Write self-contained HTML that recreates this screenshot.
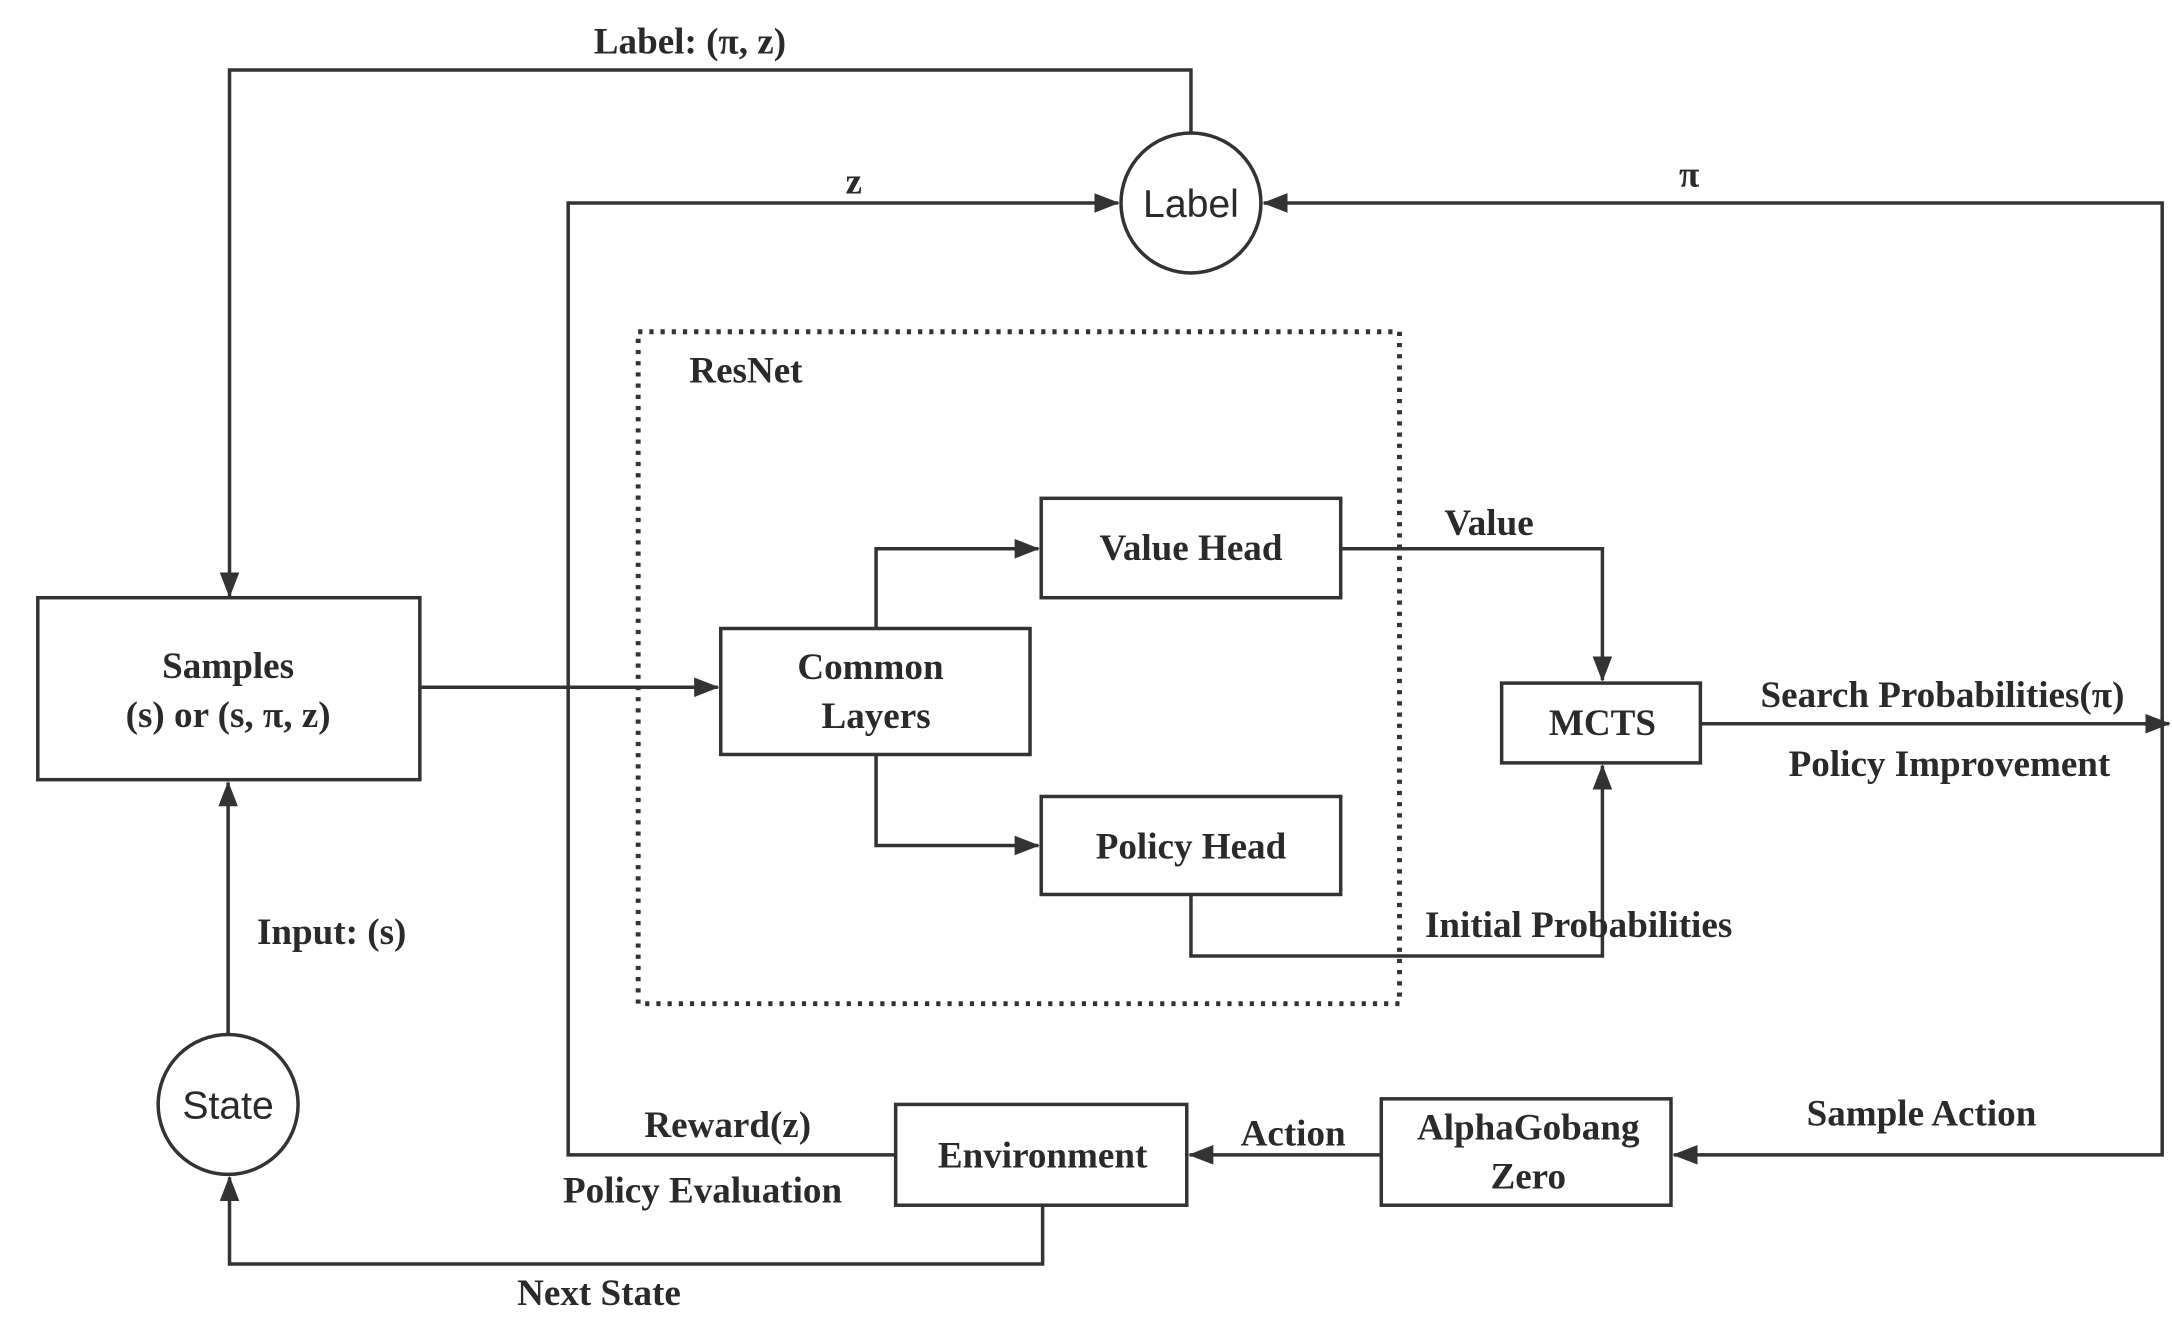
<!DOCTYPE html>
<html><head><meta charset="utf-8"><style>
html,body{margin:0;padding:0;background:#fff;}
svg{display:block;}
text{font-family:"Liberation Serif",serif;font-weight:bold;fill:#2a2a2a;font-size:26.5px;}
.s{font-family:"Liberation Sans",sans-serif;font-weight:normal;font-size:28px;}
</style></head><body>
<svg width="2172" height="1320" viewBox="0 0 1552 943" preserveAspectRatio="none" xmlns="http://www.w3.org/2000/svg">
<defs>
<marker id="b" markerWidth="18" markerHeight="14" refX="17" refY="7" orient="auto" markerUnits="userSpaceOnUse"><path d="M0,0 L18,7 L0,14 z" fill="#333"/></marker></defs>
<g fill="none" stroke="#333" stroke-width="2.5">
<rect x="456" y="237" width="544" height="480" stroke-dasharray="3,5" stroke-width="3.5"/>
<rect x="27" y="427" width="273" height="130"/>
<rect x="515" y="449" width="221" height="90"/>
<rect x="744" y="356" width="214" height="71"/>
<rect x="744" y="569" width="214" height="70"/>
<rect x="1073" y="488" width="142" height="57"/>
<rect x="640" y="789" width="208" height="72"/>
<rect x="987" y="785" width="207" height="76"/>
<circle cx="851" cy="145" r="50"/>
<circle cx="163" cy="789" r="50"/>
<polyline points="851,95 851,50 164,50 164,426" marker-end="url(#b)"/>
<polyline points="640,825 406,825 406,145 799,145" marker-end="url(#b)"/>
<polyline points="1545,517 1545,145 903,145" marker-end="url(#b)"/>
<polyline points="1545,517 1545,825 1196,825" marker-end="url(#b)"/>
<polyline points="300,491 513,491" marker-end="url(#b)"/>
<polyline points="626,449 626,392 742,392" marker-end="url(#b)"/>
<polyline points="626,539 626,604 742,604" marker-end="url(#b)"/>
<polyline points="958,392 1145,392 1145,486" marker-end="url(#b)"/>
<polyline points="851,639 851,683 1145,683 1145,547" marker-end="url(#b)"/>
<polyline points="1215,517 1550,517" marker-end="url(#b)"/>
<polyline points="987,825 850,825" marker-end="url(#b)"/>
<polyline points="745,861 745,903 164,903 164,841" marker-end="url(#b)"/>
<polyline points="163,739 163,559" marker-end="url(#b)"/>
</g>
<g text-anchor="middle" dominant-baseline="central">
<text x="163" y="476">Samples</text>
<text x="163" y="511">(s) or (s, π, z)</text>
<text x="622" y="477">Common</text>
<text x="626" y="512">Layers</text>
<text x="851" y="392">Value Head</text>
<text x="851" y="605">Policy Head</text>
<text x="1145" y="517">MCTS</text>
<text x="745" y="826">Environment</text>
<text x="1092" y="806">AlphaGobang</text>
<text x="1092" y="841">Zero</text>
<text class="s" x="851" y="146">Label</text>
<text class="s" x="163" y="790">State</text>
<text x="493" y="30">Label: (π, z)</text>
<text x="610" y="130">z</text>
<text x="1207" y="125">π</text>
<text x="533" y="265">ResNet</text>
<text x="1064" y="374">Value</text>
<text x="1388" y="497">Search Probabilities(π)</text>
<text x="1393" y="546">Policy Improvement</text>
<text x="1128" y="661">Initial Probabilities</text>
<text x="237" y="666">Input: (s)</text>
<text x="520" y="804">Reward(z)</text>
<text x="924" y="810">Action</text>
<text x="1373" y="796">Sample Action</text>
<text x="502" y="851">Policy Evaluation</text>
<text x="428" y="924">Next State</text>
</g>
</svg>
</body></html>
